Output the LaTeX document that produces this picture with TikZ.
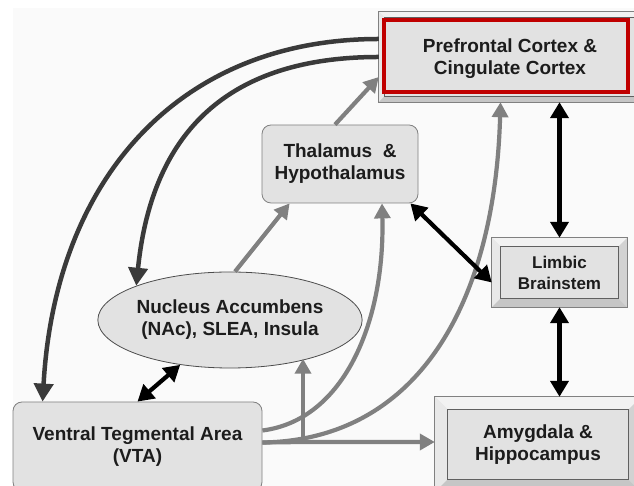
\documentclass[tikz,border=0pt]{standalone}
\usepackage{fontspec}
\setmainfont{Liberation Sans}
\usetikzlibrary{arrows.meta,shapes.geometric}

\definecolor{boxgray}{HTML}{E2E2E2}
\definecolor{darkcurve}{HTML}{3A3A3A}
\definecolor{midgray}{HTML}{808080}
\definecolor{pfcred}{HTML}{C00000}
\definecolor{inkgray}{HTML}{1C1C1C}
\definecolor{paper}{HTML}{FAFAFA}

% bevelled frame round a node: #1 node name, #2 inset
\newcommand{\bevelframe}[2]{%
  \fill[gray!10] (#1.north west) -- (#1.north east) -- ([shift={(-#2,-#2)}]#1.north east) -- ([shift={(#2,-#2)}]#1.north west) -- cycle;
  \fill[gray!18] (#1.north west) -- ([shift={(#2,-#2)}]#1.north west) -- ([shift={(#2,#2)}]#1.south west) -- (#1.south west) -- cycle;
  \fill[gray!45] (#1.south west) -- ([shift={(#2,#2)}]#1.south west) -- ([shift={(-#2,#2)}]#1.south east) -- (#1.south east) -- cycle;
  \fill[gray!35] (#1.north east) -- (#1.south east) -- ([shift={(-#2,#2)}]#1.south east) -- ([shift={(-#2,-#2)}]#1.north east) -- cycle;
  \draw[gray!75!black,line width=0.8pt] ([shift={(#2,-#2)}]#1.north west) rectangle ([shift={(-#2,#2)}]#1.south east);
  \draw[gray,line width=0.8pt] (#1.north west) rectangle (#1.south east);
}

\begin{document}
\begin{tikzpicture}[
    x=1pt,y=1pt,
    font=\fontsize{19}{22}\selectfont\bfseries,
    roundbox/.style={rectangle,rounded corners=9pt,draw=gray,line width=0.8pt,fill=boxgray,text=inkgray,align=center},
    bevelbox/.style={rectangle,fill=boxgray,text=inkgray,align=center},
    oval/.style={ellipse,draw=gray!60!black,line width=0.8pt,fill=boxgray,text=inkgray,align=center,inner sep=0pt},
    backarrow/.style={line width=4.5pt,darkcurve,-{Triangle[length=18pt,width=19pt]}},
    grayarrow/.style={line width=4.2pt,midgray,-{Triangle[length=15pt,width=16pt]}},
    bothway/.style={line width=4.2pt,black,{Triangle[length=16pt,width=18pt]}-{Triangle[length=16pt,width=18pt]}}
]
\clip (0,0) rectangle (634,486);
\fill[white] (0,0) rectangle (634,486);
\fill[paper] (13,0) rectangle (634,478);

\node[bevelbox,minimum width=261pt,minimum height=90pt] (pfc) at (509.5,429) {};
\bevelframe{pfc}{6}
\draw[pfcred,line width=4pt,fill=boxgray] ([shift={(5,-8)}]pfc.north west) rectangle ([shift={(-12,10)}]pfc.south east);
\node[text=inkgray,align=center] (pfctext) at (510,427) {Prefrontal Cortex \&\\Cingulate Cortex};

\node[roundbox,minimum width=156pt,minimum height=78pt] (thal) at (340,322) {Thalamus\ \ \&\\Hypothalamus};
\node[bevelbox,minimum width=135pt,minimum height=69pt,font=\fontsize{17}{21}\selectfont\bfseries] (lim) at (559.5,213.5) {Limbic\\Brainstem};
\bevelframe{lim}{9}
\node[bevelbox,minimum width=206pt,minimum height=95pt] (amy) at (538,41.5) {Amygdala \&\\Hippocampus};
\bevelframe{amy}{13}
\node[roundbox,minimum width=249pt,minimum height=89pt] (vta) at (137.5,39.5) {Ventral Tegmental Area\\(VTA)};
\node[oval,minimum width=210pt,minimum height=96pt] (nac) at (230,166) {Nucleus Accumbens\\(NAc), SLEA, Insula};

\coordinate (split) at (303,44);

% dark feedback curves from cortex
\draw[backarrow] ([yshift=18]pfc.west) .. controls (178,447) and (55,306) .. ([xshift=30]vta.north west);
\draw[backarrow] (pfc.west) .. controls (230,429) and (152,356) .. (nac.north west);

% gray projections
\draw[grayarrow] ([xshift=5]nac.north) -- ([xshift=28]thal.south west);
\draw[grayarrow] ([xshift=-5]thal.north) -- ([yshift=-20]pfc.west);
\draw[grayarrow] ([yshift=16]vta.east) .. controls (345,66) and (385,166) .. ([xshift=42]thal.south);
\draw[grayarrow] ([yshift=4]vta.east) .. controls (420,46) and (495,186) .. ([xshift=-9]pfc.south);
\draw[grayarrow] ([yshift=4]vta.east) -- (split) -- (split -| amy.west);
\draw[grayarrow] (split) -- (split |- nac.334);

% two-way links
\draw[bothway] (lim.north |- pfc.south) -- (lim.north);
\draw[bothway] ([xshift=-8]thal.south east) -- ([yshift=-10]lim.west);
\draw[bothway] (lim.south) -- (lim.south |- amy.north);
\draw[bothway] (nac.222) -- (vta.north);
\end{tikzpicture}
\end{document}
